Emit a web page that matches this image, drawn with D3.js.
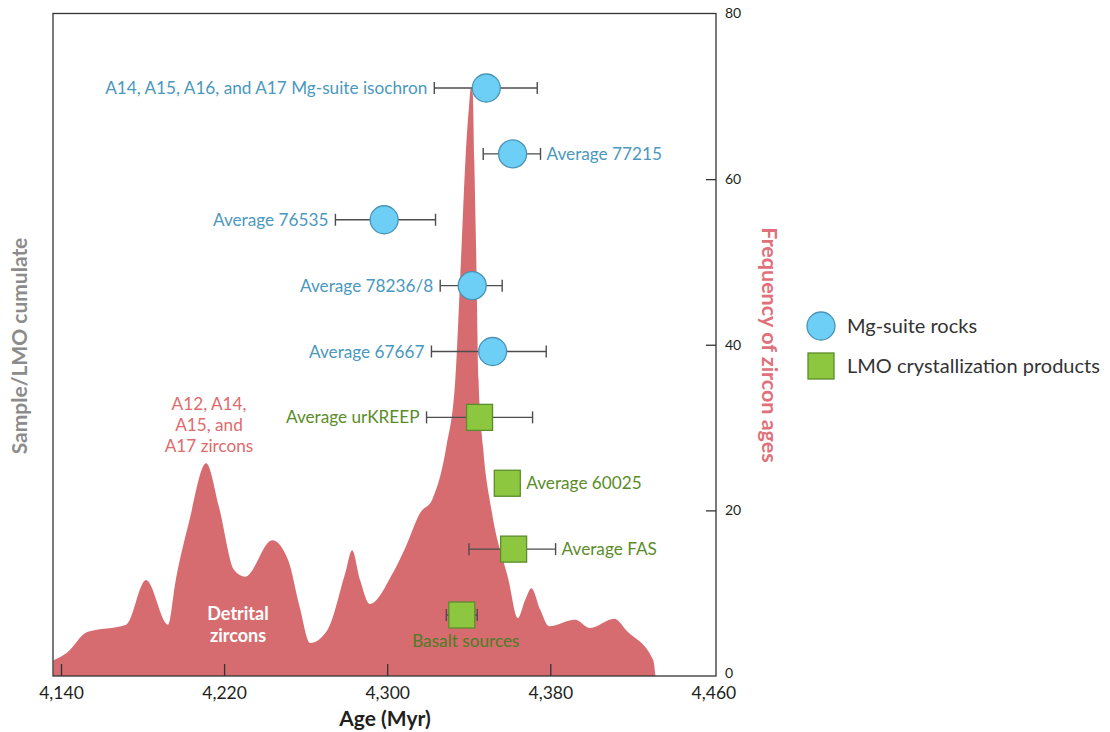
<!DOCTYPE html>
<html>
<head>
<meta charset="utf-8">
<script src="https://cdn.jsdelivr.net/npm/d3@7"></script>
<style>
  html, body { margin: 0; padding: 0; background: #ffffff; }
  svg { display: block; }
  text { font-family: Lato, "Open Sans", sans-serif; }
</style>
</head>
<body>
<svg id="chart" width="1110" height="732"></svg>
<script>
// ---- Sample ages (Myr) with uncertainty ranges ----
const samples = [
  "A14, A15, A16, and A17 Mg-suite isochron",
  "Average 77215",
  "Average 76535",
  "Average 78236/8",
  "Average 67667",
  "Average urKREEP",
  "Average 60025",
  "Average FAS",
  "Basalt sources"
];
const sampleAge  = [4348.6, 4361.5, 4298.5, 4341.7, 4351.7, 4345.3, 4358.9, 4362.0, 4336.6];
const sampleLow  = [4323.1, 4347.1, 4274.6, 4326.0, 4321.7, 4319.3, null,   4340.1, 4329.0];
const sampleHigh = [4373.6, 4375.2, 4323.7, 4356.4, 4378.0, 4371.3, null,   4382.6, 4344.2];
const sampleGroup = ["Mg-suite rocks", "Mg-suite rocks", "Mg-suite rocks", "Mg-suite rocks", "Mg-suite rocks",
                     "LMO crystallization products", "LMO crystallization products",
                     "LMO crystallization products", "LMO crystallization products"];

// ---- Detrital zircon age frequency distribution ----
const zirconAge = [4136.3, 4142.9, 4152.8, 4171.9, 4181.7, 4192.5, 4196.3, 4202.7, 4211.2, 4217.5,
                   4224.9, 4230.3, 4243.6, 4251.4, 4257.0, 4262.2, 4270.8, 4279.4, 4282.8, 4286.7,
                   4291.5, 4302.7, 4309.1, 4316.2, 4322.1, 4329.0, 4333.4, 4336.2, 4338.4, 4340.0,
                   4341.1, 4342.0, 4342.7, 4343.7, 4344.8, 4347.0, 4351.4, 4359.5, 4364.1, 4367.7,
                   4370.7, 4375.1, 4379.4, 4392.1, 4399.6, 4411.3, 4417.7, 4430.5, 4431.6];
const zirconFreq = [1.9, 2.8, 5.3, 6.2, 11.6, 6.2, 11.6, 18.5, 25.7, 20.4,
                    12.8, 12.0, 16.4, 14.0, 8.4, 4.0, 5.6, 12.4, 15.2, 11.6,
                    8.7, 12.4, 15.6, 19.7, 21.3, 27.7, 35.8, 50.3, 62.4, 68.4,
                    71.1, 70.2, 62.4, 50.3, 35.8, 27.7, 19.7, 11.6, 7.0, 9.2,
                    10.6, 8.0, 6.0, 6.8, 5.8, 6.9, 5.4, 1.9, 0];

// ---- Axis ticks ----
const ageTicks = [4140, 4220, 4300, 4380, 4460];
const freqTicks = [0, 20, 40, 60, 80];

const legendGroups = ["Mg-suite rocks", "LMO crystallization products"];

// ---- Layout ----
const frame = { left: 53, right: 716, top: 13.5, bottom: 676 };

const svg = d3.select("#chart");

const x = d3.scaleLinear().domain([4140, 4460]).range([61, 713.4]);
const yFreq = d3.scaleLinear().domain([0, 80]).range([frame.bottom, frame.top]);
const yRow = d3.scalePoint().domain(samples).range([88, 615]);

const colors = {
  area: "#d66c70",
  circleFill: "#6dcff6", circleStroke: "#4b93b5",
  squareFill: "#8dc63f", squareStroke: "#5b8d2c",
  blueText: "#4a98bd", greenText: "#5a8c2a", darkGreenText: "#4c7d23",
  redText: "#e06a6c", bar: "#4d4d4d", axis: "#333333"
};

// Zircon frequency area
const zircon = zirconAge.map((a, i) => ({ age: a, freq: zirconFreq[i] }));
svg.append("path")
  .datum(zircon)
  .attr("fill", colors.area)
  .attr("d", d3.area()
    .x(d => x(d.age))
    .y0(yFreq(0))
    .y1(d => yFreq(d.freq))
    .curve(d3.curveMonotoneX));

// Plot frame
svg.append("rect")
  .attr("x", frame.left).attr("y", frame.top)
  .attr("width", frame.right - frame.left)
  .attr("height", frame.bottom - frame.top)
  .attr("fill", "none").attr("stroke", colors.axis).attr("stroke-width", 1.3);

// Bottom age axis (ticks pointing inward)
const xAxis = svg.append("g")
  .attr("transform", `translate(0,${frame.bottom})`)
  .call(d3.axisBottom(x).tickValues(ageTicks).tickFormat(d3.format(",")).tickSizeInner(-12).tickSizeOuter(0).tickPadding(9));
xAxis.select(".domain").remove();
xAxis.selectAll(".tick line").attr("stroke", colors.axis).attr("stroke-width", 1.3)
  .filter(d => d === 4460).remove();
xAxis.selectAll(".tick text")
  .attr("font-family", "Lato, sans-serif").attr("font-size", 17.5).attr("fill", "#231f20")
  .attr("dy", "0.8em");

// Right frequency axis (ticks pointing inward)
const yAxis = svg.append("g")
  .attr("transform", `translate(${frame.right},0)`)
  .call(d3.axisRight(yFreq).tickValues(freqTicks).tickSizeInner(-10).tickSizeOuter(0).tickPadding(9));
yAxis.select(".domain").remove();
yAxis.selectAll(".tick line").attr("stroke", colors.axis).attr("stroke-width", 1.3)
  .filter(d => d === 0 || d === 80).remove();
yAxis.selectAll(".tick text")
  .attr("font-family", "'DejaVu Sans', Verdana, sans-serif").attr("font-size", 14).attr("fill", "#231f20");
// lift the zero label slightly so it clears the corner age label
yAxis.selectAll(".tick text").filter(d => d === 0).attr("dy", "0.1em");

// Axis titles
svg.append("text")
  .attr("x", 385).attr("y", 726)
  .attr("text-anchor", "middle")
  .attr("font-weight", "bold").attr("font-size", 21).attr("fill", "#231f20")
  .text("Age (Myr)");

svg.append("text")
  .attr("transform", "translate(762,345) rotate(90)")
  .attr("text-anchor", "middle")
  .attr("font-weight", "bold").attr("font-size", 21.5).attr("fill", "#e0707a")
  .text("Frequency of zircon ages");

svg.append("text")
  .attr("transform", "translate(27,346) rotate(-90)")
  .attr("text-anchor", "middle")
  .attr("font-weight", "bold").attr("font-size", 21).attr("fill", "#8c8c8c")
  .text("Sample/LMO cumulate");

// Annotations on the zircon distribution
const zirconNote = svg.append("text")
  .attr("text-anchor", "middle").attr("font-size", 17.2).attr("fill", colors.redText);
["A12, A14,", "A15, and", "A17 zircons"].forEach((line, i) => {
  zirconNote.append("tspan").attr("x", 209).attr("y", 410 + i * 21).text(line);
});

const detrital = svg.append("text")
  .attr("text-anchor", "middle").attr("font-size", 18).attr("font-weight", "bold").attr("fill", "#ffffff");
["Detrital", "zircons"].forEach((line, i) => {
  detrital.append("tspan").attr("x", 238).attr("y", 620 + i * 22).text(line);
});

// Sample markers with error bars
const rows = samples.map((s, i) => ({
  name: s, age: sampleAge[i], low: sampleLow[i], high: sampleHigh[i], group: sampleGroup[i]
}));

const isMg = d => d.group === legendGroups[0];
const markerR = 14, squareS = 26, capH = 12;
const labelSide = { "Average 77215": "right", "Average 60025": "right", "Average FAS": "right", "Basalt sources": "below" };

const rowG = svg.append("g").selectAll("g").data(rows).join("g")
  .attr("transform", d => `translate(0,${yRow(d.name)})`);

const withBars = rowG.filter(d => d.low !== null);
withBars.append("line")
  .attr("x1", d => x(d.low)).attr("x2", d => x(d.high))
  .attr("stroke", colors.bar).attr("stroke-width", 1.4);
withBars.append("line")
  .attr("x1", d => x(d.low)).attr("x2", d => x(d.low))
  .attr("y1", -capH / 2).attr("y2", capH / 2)
  .attr("stroke", colors.bar).attr("stroke-width", 1.4);
withBars.append("line")
  .attr("x1", d => x(d.high)).attr("x2", d => x(d.high))
  .attr("y1", -capH / 2).attr("y2", capH / 2)
  .attr("stroke", colors.bar).attr("stroke-width", 1.4);

rowG.filter(isMg).append("circle")
  .attr("cx", d => x(d.age)).attr("r", markerR)
  .attr("fill", colors.circleFill).attr("stroke", colors.circleStroke).attr("stroke-width", 1.3);

rowG.filter(d => !isMg(d)).append("rect")
  .attr("x", d => x(d.age) - squareS / 2).attr("y", -squareS / 2)
  .attr("width", squareS).attr("height", squareS)
  .attr("fill", colors.squareFill).attr("stroke", colors.squareStroke).attr("stroke-width", 1.3);

rowG.append("text")
  .attr("font-size", 17.2)
  .attr("fill", d => d.name === "Basalt sources" ? colors.darkGreenText : (isMg(d) ? colors.blueText : colors.greenText))
  .attr("text-anchor", d => {
    const side = labelSide[d.name] || "left";
    return side === "left" ? "end" : side === "right" ? "start" : "middle";
  })
  .attr("x", d => {
    const side = labelSide[d.name] || "left";
    const half = isMg(d) ? markerR : squareS / 2;
    if (side === "below") return x(d.age) + 4;
    if (side === "left") return (d.low !== null ? x(d.low) : x(d.age) - half) - 7;
    return (d.high !== null ? x(d.high) : x(d.age) + half) + 6;
  })
  .attr("y", d => (labelSide[d.name] === "below" ? 26 : 0))
  .attr("dy", "0.35em")
  .text(d => d.name);

// Legend
const legend = svg.append("g").selectAll("g").data(legendGroups).join("g")
  .attr("transform", (d, i) => `translate(821,${326 + i * 40})`);
legend.filter((d, i) => i === 0).append("circle")
  .attr("r", markerR).attr("fill", colors.circleFill)
  .attr("stroke", colors.circleStroke).attr("stroke-width", 1.3);
legend.filter((d, i) => i === 1).append("rect")
  .attr("x", -squareS / 2).attr("y", -squareS / 2).attr("width", squareS).attr("height", squareS)
  .attr("fill", colors.squareFill).attr("stroke", colors.squareStroke).attr("stroke-width", 1.3);
legend.append("text")
  .attr("x", 26).attr("dy", "0.35em")
  .attr("font-size", 20).attr("fill", "#333333")
  .text(d => d);
</script>
</body>
</html>
